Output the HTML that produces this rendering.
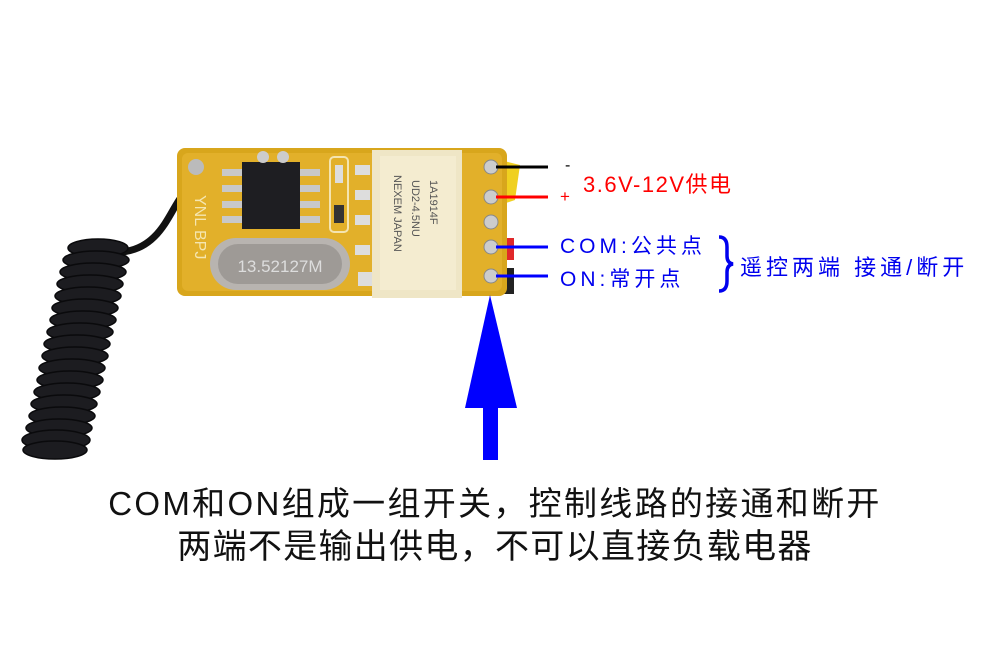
<!DOCTYPE html>
<html><head><meta charset="utf-8"><style>
body{margin:0;width:1000px;height:666px;background:#fff;position:relative;overflow:hidden;font-family:"Liberation Sans","Noto Sans CJK SC",sans-serif}
.t{position:absolute;white-space:nowrap;line-height:1}
</style></head><body>
<svg width="1000" height="666" style="position:absolute;left:0;top:0">
<path d="M182,196 C170,210 160,250 120,252 L100,250" stroke="#111" stroke-width="7" fill="none"/>
<g fill="#1c1c20" stroke="#0a0a0c" stroke-width="1.5">
<ellipse cx="98" cy="248" rx="30" ry="9"/>
<ellipse cx="96" cy="260" rx="33" ry="9"/>
<ellipse cx="93" cy="272" rx="33" ry="9"/>
<ellipse cx="90" cy="284" rx="33" ry="9"/>
<ellipse cx="88" cy="296" rx="33" ry="9"/>
<ellipse cx="85" cy="308" rx="33" ry="9"/>
<ellipse cx="83" cy="320" rx="33" ry="9"/>
<ellipse cx="80" cy="332" rx="33" ry="9"/>
<ellipse cx="77" cy="344" rx="33" ry="9"/>
<ellipse cx="75" cy="356" rx="33" ry="9"/>
<ellipse cx="72" cy="368" rx="33" ry="9"/>
<ellipse cx="70" cy="380" rx="33" ry="9"/>
<ellipse cx="67" cy="392" rx="33" ry="9"/>
<ellipse cx="64" cy="404" rx="33" ry="9"/>
<ellipse cx="62" cy="416" rx="33" ry="9"/>
<ellipse cx="59" cy="428" rx="33" ry="9"/>
<ellipse cx="56" cy="440" rx="34" ry="10"/>
<ellipse cx="55" cy="450" rx="32" ry="9"/>
</g>
<path d="M500,160 L520,165 L515,200 L500,205Z" fill="#f0d020"/>
<rect x="494" y="238" width="20" height="22" fill="#e0282a"/>
<rect x="494" y="268" width="20" height="26" fill="#222"/>
<rect x="177" y="148" width="330" height="148" rx="8" fill="#d8a61c"/>
<rect x="182" y="153" width="320" height="138" rx="6" fill="#e2b02a"/>
<rect x="242" y="162" width="58" height="67" fill="#1e1e22"/>
<g fill="#c8c8c8"><rect x="222" y="169" width="20" height="7"/><rect x="222" y="185" width="20" height="7"/><rect x="222" y="201" width="20" height="7"/><rect x="222" y="216" width="20" height="7"/>
<rect x="300" y="169" width="20" height="7"/><rect x="300" y="185" width="20" height="7"/><rect x="300" y="201" width="20" height="7"/><rect x="300" y="216" width="20" height="7"/></g>
<circle cx="196" cy="167" r="8" fill="#bbb"/>
<circle cx="263" cy="157" r="6" fill="#ccc"/><circle cx="283" cy="157" r="6" fill="#ccc"/>
<rect x="330" y="157" width="18" height="75" rx="4" fill="none" stroke="#f4e4b0" stroke-width="2"/>
<rect x="335" y="165" width="8" height="18" fill="#ddd"/><rect x="334" y="205" width="10" height="18" fill="#333"/>
<rect x="210" y="238" width="140" height="52" rx="26" fill="#b8b4b0"/>
<rect x="218" y="244" width="124" height="40" rx="20" fill="#9e9a96"/>
<text x="280" y="272" font-size="17" fill="#ddd" text-anchor="middle" font-family="Liberation Sans">13.52127M</text>
<g fill="#ddd"><rect x="355" y="165" width="15" height="10"/><rect x="355" y="190" width="15" height="10"/><rect x="355" y="215" width="15" height="10"/><rect x="355" y="245" width="15" height="10"/><rect x="358" y="272" width="14" height="14"/></g>
<text x="195" y="195" font-size="16" fill="#f5e6b0" transform="rotate(90 195 195)" font-family="Liberation Sans">YNL BPJ</text>
<rect x="372" y="150" width="90" height="148" fill="#efe6c6"/>
<rect x="380" y="156" width="76" height="134" fill="#f4ecd0"/>
<text x="430" y="180" font-size="11" fill="#555" transform="rotate(90 430 180)" font-family="Liberation Sans">1A1914F</text>
<text x="412" y="180" font-size="11" fill="#555" transform="rotate(90 412 180)" font-family="Liberation Sans">UD2-4.5NU</text>
<text x="394" y="175" font-size="11" fill="#555" transform="rotate(90 394 175)" font-family="Liberation Sans">NEXEM JAPAN</text>
<g fill="#ccc" stroke="#888"><circle cx="491" cy="167" r="7"/><circle cx="491" cy="197" r="7"/><circle cx="491" cy="222" r="7"/><circle cx="491" cy="247" r="7"/><circle cx="491" cy="276" r="7"/></g>
<line x1="496" y1="167" x2="548" y2="167" stroke="#000" stroke-width="3"/>
<line x1="496" y1="197" x2="548" y2="197" stroke="#f00" stroke-width="3"/>
<line x1="496" y1="247" x2="548" y2="247" stroke="#0000ff" stroke-width="3"/>
<line x1="496" y1="276" x2="548" y2="276" stroke="#0000ff" stroke-width="3"/>
<rect x="483" y="405" width="15" height="55" fill="#0000ff"/>
<polygon points="490,295 517,408 465,408" fill="#0000ff"/>
<path d="M719,237 Q727,237 727,247 L727,256 Q727,263 733,264 Q727,265 727,272 L727,281 Q727,291 719,291" stroke="#0000ee" stroke-width="3.5" fill="none"/>
</svg>
<div class="t" style="left:565px;top:158px;font-size:16px">-</div>
<div class="t" style="left:560px;top:188px;font-size:17px;color:#f00">+</div>
<div class="t" style="left:583px;top:174px;font-size:22px;color:#f00;letter-spacing:1.5px">3.6V-12V供电</div>
<div class="t" style="left:560px;top:236px;font-size:21px;color:#0000ee;letter-spacing:4px">COM:公共点</div>
<div class="t" style="left:560px;top:269px;font-size:21px;color:#0000ee;letter-spacing:4px">ON:常开点</div>
<div class="t" style="left:740px;top:257px;font-size:22px;color:#0000ee;letter-spacing:4px">遥控两端 接通/断开</div>
<div class="t" style="left:0;width:990px;text-align:center;top:487px;font-size:33px;color:#111;letter-spacing:2.3px">COM和ON组成一组开关，控制线路的接通和断开</div>
<div class="t" style="left:0;width:990px;text-align:center;top:530px;font-size:34px;color:#111;letter-spacing:1.3px">两端不是输出供电，不可以直接负载电器</div>
</body></html>
